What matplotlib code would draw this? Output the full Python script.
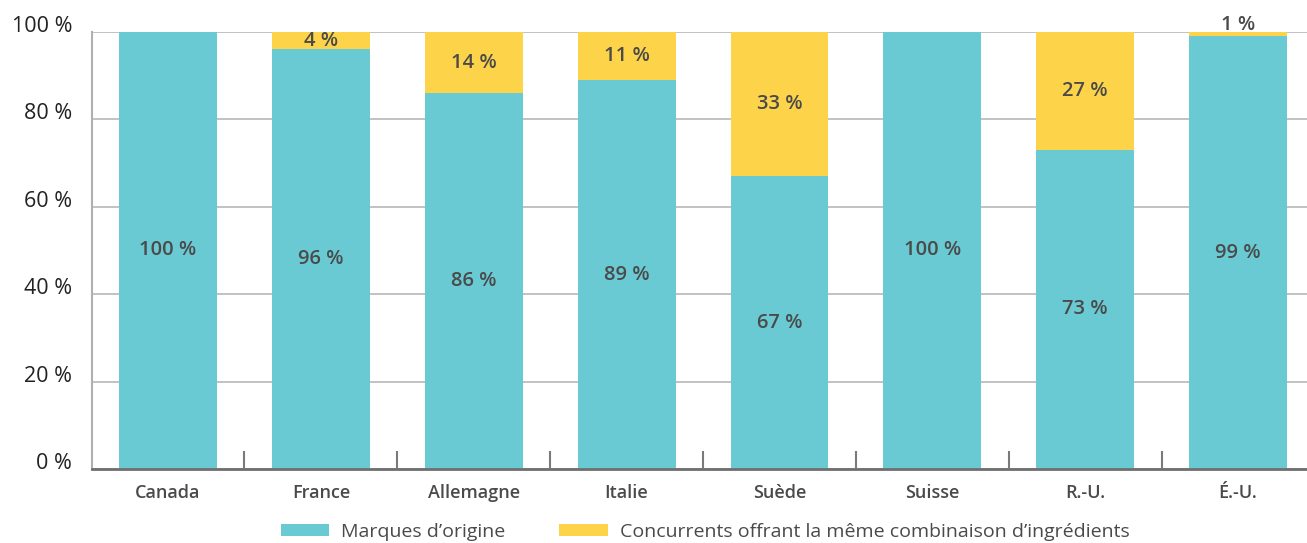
import numpy as np
import matplotlib.pyplot as plt
import matplotlib.transforms as mtransforms

pays = ['Canada', 'France', 'Allemagne', 'Italie', 'Suède', 'Suisse', 'R.-U.', 'É.-U.']
origine = [100, 96, 86, 89, 67, 100, 73, 99]
concurrents = [0, 4, 14, 11, 33, 0, 27, 1]

teal = '#69CAD3'
jaune = '#FDD449'
txt = '#4a4a4a'

plt.rcParams['font.family'] = ['Open Sans', 'DejaVu Sans']

fig = plt.figure(figsize=(13.07, 5.43), dpi=100)
ax = fig.add_axes([0.0701, 0.1363, 0.9356, 0.8048])

x = np.arange(len(pays))
w = 0.64
ax.bar(x, origine, w, color=teal, label='Marques d\u2019origine', zorder=2)
ax.bar(x, concurrents, w, bottom=origine, color=jaune,
       label='Concurrents offrant la même combinaison d\u2019ingrédients', zorder=2)

# labels in the middle of each segment
for i in range(len(pays)):
    ax.text(x[i], origine[i] / 2, f'{origine[i]} %', ha='center', va='center',
            fontsize=14.5, fontweight='semibold', color=txt, zorder=3)
    c = concurrents[i]
    if c == 0:
        continue
    if c < 3:
        ax.text(x[i], origine[i] + c - 0.8, f'{c} %', ha='center', va='bottom',
                fontsize=14.5, fontweight='semibold', color=txt, zorder=3)
    else:
        ax.text(x[i], origine[i] + c / 2, f'{c} %', ha='center', va='center',
                fontsize=14.5, fontweight='semibold', color=txt, zorder=3)

ax.set_xlim(-0.5, len(pays) - 0.5)
ax.set_ylim(0, 100)
ax.set_yticks(np.arange(0, 101, 20))
ax.set_yticklabels([f'{v} %' for v in range(0, 101, 20)])
ax.yaxis.grid(True, color='#bdbdbd', linewidth=1.3, zorder=0)
ax.tick_params(axis='y', length=0, pad=14, labelsize=15.5, labelcolor='#222222')
off = mtransforms.ScaledTranslation(0, 8 / 100, fig.dpi_scale_trans)
for lab in ax.get_yticklabels():
    lab.set_transform(lab.get_transform() + off)

ax.set_xticks(x)
ax.set_xticklabels(pays, fontsize=13, fontweight='semibold', color=txt)
ax.tick_params(axis='x', which='major', length=0, pad=11)
ax.set_xticks(x[:-1] + 0.5, minor=True)
ax.tick_params(axis='x', which='minor', direction='in', length=13,
               width=1.5, color='#7a7a7a')

for s in ['top', 'right']:
    ax.spines[s].set_visible(False)
ax.spines['left'].set_color('#b0b0b0')
ax.spines['left'].set_linewidth(1.5)
ax.spines['bottom'].set_color('#6f6f6f')
ax.spines['bottom'].set_linewidth(2)
ax.spines['bottom'].set_zorder(4)

leg = fig.legend(loc='center', bbox_to_anchor=(705 / 1307, 11 / 543), ncol=2,
                 frameon=False, fontsize=14, handlelength=2.5, handleheight=0.6,
                 handletextpad=0.6, columnspacing=2.8)
for t in leg.get_texts():
    t.set_color(txt)

fig.savefig('out.png', dpi=100)
